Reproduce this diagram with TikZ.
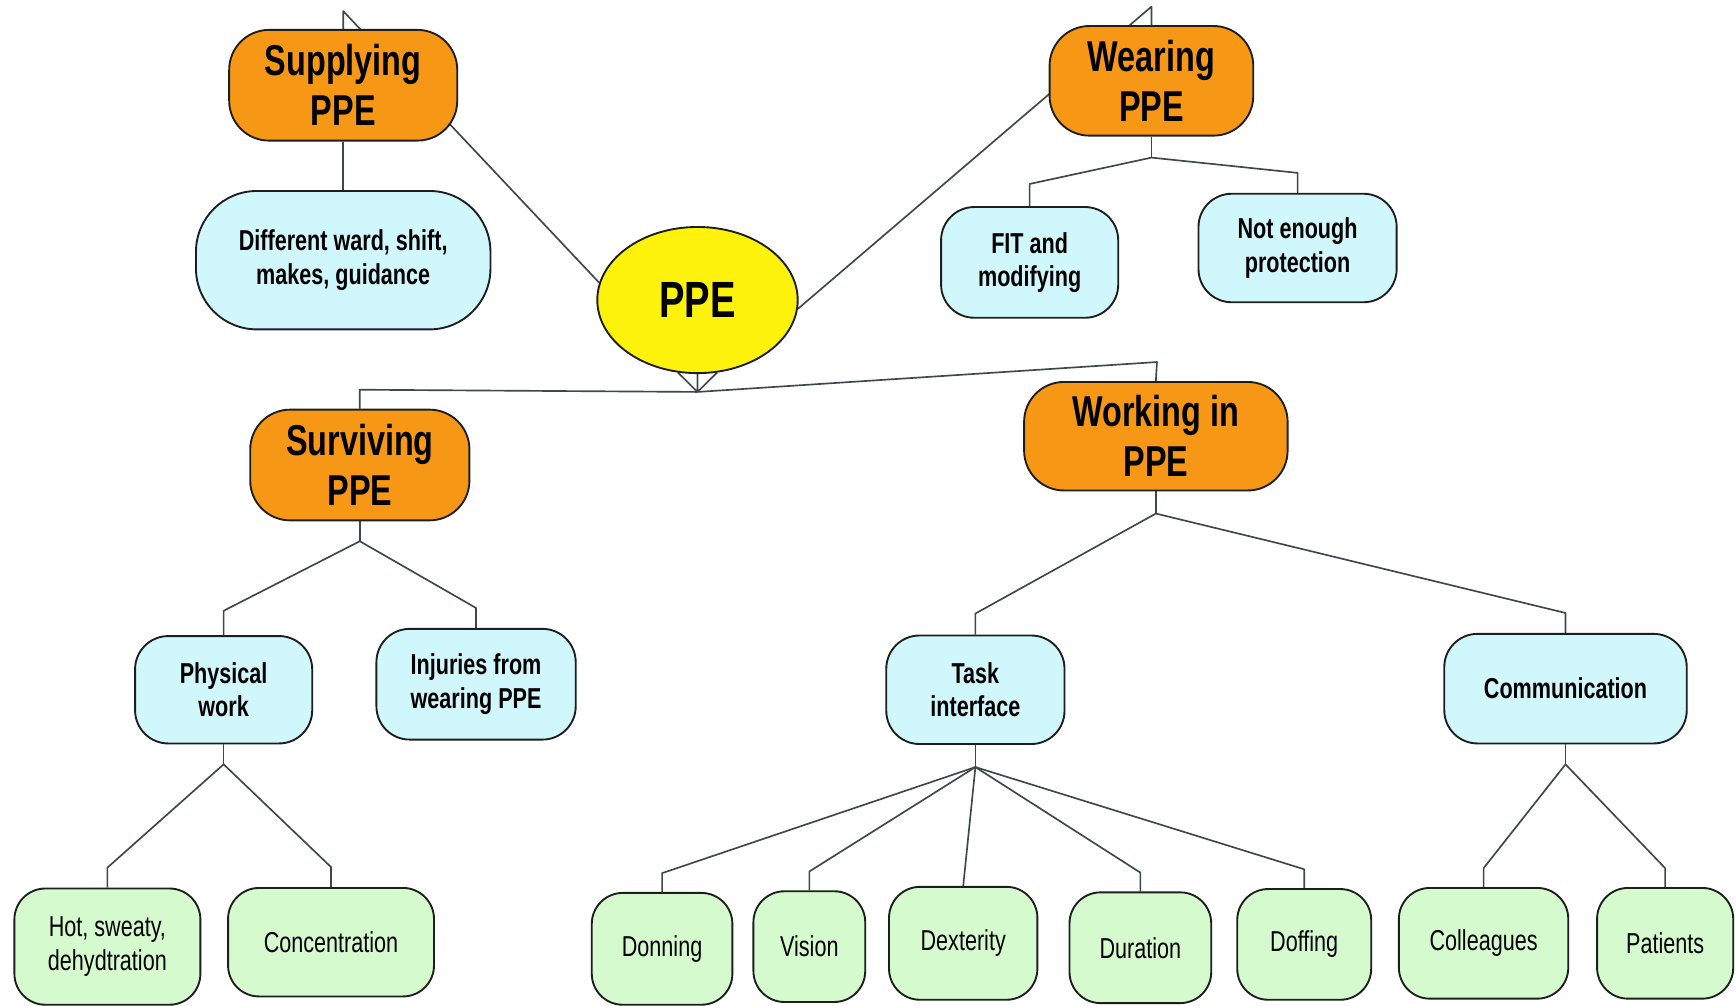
\documentclass[tikz,border=0pt]{standalone}
\usepackage{fontspec}
\setmainfont{Liberation Sans}[FakeStretch=0.75]
\usetikzlibrary{shapes.geometric,backgrounds}
\definecolor{themeorange}{RGB}{246,152,22}
\definecolor{leafblue}{RGB}{208,248,252}
\definecolor{leafgreen}{RGB}{212,250,206}
\definecolor{hubyellow}{RGB}{252,242,12}
\definecolor{edgeline}{RGB}{30,30,30}
\definecolor{linkline}{RGB}{62,72,72}
\tikzset{
  box/.style={draw=edgeline, line width=1.7pt, align=center, inner sep=0pt},
  theme/.style={box, fill=themeorange, rounded corners=36pt,
    font=\fontsize{39}{45}\selectfont\bfseries},
  sub/.style={box, fill=leafblue, rounded corners=30pt,
    font=\fontsize{26}{30}\selectfont\bfseries},
  leaf/.style={box, fill=leafgreen, rounded corners=28pt,
    font=\fontsize{26}{30}\selectfont},
  hub/.style={box, ellipse, fill=hubyellow,
    font=\fontsize{46}{50}\selectfont\bfseries},
  link/.style={draw=linkline, line width=1.5pt, line join=round}
}
\begin{document}
\begin{tikzpicture}[x=1pt,y=-1pt]
\useasboundingbox (0,0) rectangle (1568,908);

% centre
\node[hub, minimum width=181pt, minimum height=132pt] (ppe) at (630,271) {PPE};

% four themes
\node[theme, minimum width=206pt, minimum height=100pt] (sup) at (310,77) {Supplying\\PPE};
\node[theme, minimum width=184pt, minimum height=99pt] (wear) at (1040,73) {Wearing\\PPE};
\node[theme, minimum width=198pt, minimum height=100pt] (surv) at (325,420) {Surviving\\PPE};
\node[theme, minimum width=238pt, minimum height=98pt] (work) at (1044,394) {Working in\\PPE};

% sub-themes
\node[sub, rounded corners=55pt, minimum width=266pt, minimum height=125pt] (ward) at (310,235) {Different ward, shift,\\makes, guidance};
\node[sub, minimum width=160pt, minimum height=100pt] (fit) at (930,237) {FIT and\\modifying};
\node[sub, minimum width=179pt, minimum height=98pt] (prot) at (1172,224) {Not enough\\protection};
\node[sub, minimum width=160pt, minimum height=97pt] (phys) at (202,623) {Physical\\work};
\node[sub, minimum width=180pt, minimum height=100pt] (inj) at (430,618) {Injuries from\\wearing PPE};
\node[sub, minimum width=161pt, minimum height=98pt] (task) at (881,623) {Task\\interface};
\node[sub, minimum width=219pt, minimum height=99pt] (comm) at (1414,622) {Communication};

% leaves
\node[leaf, minimum width=168pt, minimum height=105pt] (hot) at (97,855) {Hot, sweaty,\\dehydtration};
\node[leaf, minimum width=186pt, minimum height=98pt] (conc) at (299,851) {Concentration};
\node[leaf, minimum width=127pt, minimum height=101pt] (don) at (598,857) {Donning};
\node[leaf, minimum width=101pt, minimum height=100pt] (vis) at (731,855) {Vision};
\node[leaf, minimum width=134pt, minimum height=102pt] (dex) at (870,852) {Dexterity};
\node[leaf, minimum width=128pt, minimum height=100pt] (dur) at (1030,856) {Duration};
\node[leaf, minimum width=121pt, minimum height=100pt] (doff) at (1178,853) {Doffing};
\node[leaf, minimum width=153pt, minimum height=100pt] (coll) at (1340,852) {Colleagues};
\node[leaf, minimum width=123pt, minimum height=100pt] (pat) at (1504,852) {Patients};

% elbow points and junctions
\coordinate (supTop) at (310,10);
\coordinate (wearTop) at (1040,6);
\coordinate (hubJ) at (630,354);
\coordinate (survBend) at (325,352);
\coordinate (workBend) at (1045,327);

\begin{pgfonlayer}{background}
  \fill[white] (0,0) rectangle (1568,908);

  % centre to themes
  \draw[link] (ppe.170) -- (supTop) -- (sup.north);
  \draw[link] (ppe.-5) -- (wearTop) -- (wear.north);
  \draw[link] (ppe.-75) -- (hubJ) (ppe.south) -- (hubJ) (ppe.-105) -- (hubJ);
  \draw[link] (hubJ) -- (survBend) -- (surv.north);
  \draw[link] (hubJ) -- (workBend) -- (work.north);

  % supplying
  \draw[link] (sup.south) -- (ward.north);

  % wearing
  \draw[link] (wear.south) -- ++(0,19) coordinate (wearJ);
  \draw[link] (wearJ) -- ([yshift=20pt]fit.north) -- (fit.north);
  \draw[link] (wearJ) -- ([yshift=18pt]prot.north) -- (prot.north);

  % surviving
  \draw[link] (surv.south) -- ++(0,18) coordinate (survJ);
  \draw[link] (survJ) -- ([yshift=22pt]phys.north) -- (phys.north);
  \draw[link] (survJ) -- ([yshift=18pt]inj.north) -- (inj.north);

  % physical work
  \draw[link] (phys.south) -- ++(0,18) coordinate (physJ);
  \draw[link] (physJ) -- ([yshift=18pt]hot.north) -- (hot.north);
  \draw[link] (physJ) -- ([yshift=18pt]conc.north) -- (conc.north);

  % working in
  \draw[link] (work.south) -- ++(0,20) coordinate (workJ);
  \draw[link] (workJ) -- ([yshift=19pt]task.north) -- (task.north);
  \draw[link] (workJ) -- ([yshift=18pt]comm.north) -- (comm.north);

  % task interface
  \draw[link] (task.south) -- ++(0,20) coordinate (taskJ);
  \draw[link] (taskJ) -- ([yshift=17pt]don.north) -- (don.north);
  \draw[link] (taskJ) -- ([yshift=17pt]vis.north) -- (vis.north);
  \draw[link] (taskJ) -- (dex.north);
  \draw[link] (taskJ) -- ([yshift=17pt]dur.north) -- (dur.north);
  \draw[link] (taskJ) -- ([yshift=17pt]doff.north) -- (doff.north);

  % communication
  \draw[link] (comm.south) -- ++(0,18) coordinate (commJ);
  \draw[link] (commJ) -- ([yshift=17pt]coll.north) -- (coll.north);
  \draw[link] (commJ) -- ([yshift=17pt]pat.north) -- (pat.north);
\end{pgfonlayer}
\end{tikzpicture}
\end{document}
